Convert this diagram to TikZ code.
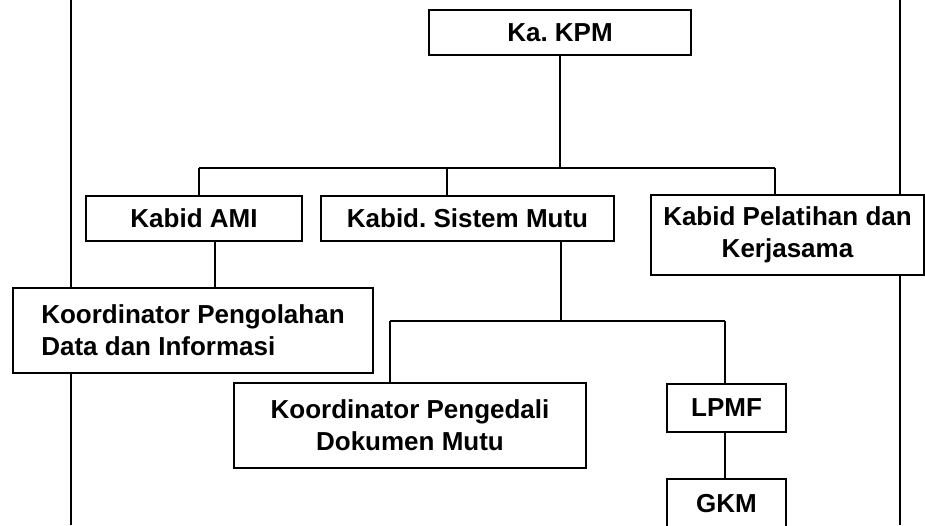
\documentclass[tikz,border=0pt]{standalone}
\usepackage{fontspec}
\setmainfont{Liberation Sans}
\frenchspacing
\begin{document}
\begin{tikzpicture}[x=1pt,y=-1pt,
  box/.style={draw, line width=2pt, fill=white, inner sep=0pt,
    font=\bfseries\fontsize{26}{32}\selectfont, align=center},
  link/.style={line width=1.7pt},
  frameline/.style={line width=2pt}]
\useasboundingbox (0,0) rectangle (925,525);
\draw[frameline] (71,0) -- (71,525);
\draw[frameline] (900,0) -- (900,525);
\node[box, minimum width=262, minimum height=45] (kpm) at (560,32.5) {Ka. KPM};
\node[box, minimum width=216, minimum height=45] (ami) at (194,218.5) {Kabid AMI};
\node[box, minimum width=293, minimum height=45] (sm) at (467.5,218.5) {Kabid. Sistem Mutu};
\node[box, minimum width=273, minimum height=80] (pel) at (787.5,235) {Kabid Pelatihan dan\\Kerjasama};
\node[box, align=left, minimum width=360, minimum height=85] (kpd) at (193,330.5) {Koordinator Pengolahan\\Data dan Informasi};
\node[box, minimum width=352, minimum height=85] (kdm) at (410,425.5) {Koordinator Pengedali\\Dokumen Mutu};
\node[box, minimum width=119, minimum height=48] (lpmf) at (726.5,408) {LPMF};
\node[box, minimum width=119, minimum height=50] (gkm) at (726.5,504) {GKM};
\coordinate (ba) at (199,168);
\coordinate (bs) at (447,168);
\coordinate (bk) at (560,168);
\coordinate (bp) at (775,168);
\draw[link] (kpm.south) -- (bk);
\draw[link] (ba) -- (bp);
\draw[link] (ba) -- (ba |- ami.north);
\draw[link] (bs) -- (bs |- sm.north);
\draw[link] (bp) -- (bp |- pel.north);
\coordinate (ca) at (215,0);
\draw[link] (ami.south -| ca) -- (kpd.north -| ca);
\coordinate (cs) at (561,321);
\coordinate (cl) at (390,321);
\coordinate (cr) at (725,321);
\draw[link] (sm.south -| cs) -- (cs);
\draw[link] (cl) -- (cr);
\draw[link] (cl) -- (cl |- kdm.north);
\draw[link] (cr) -- (cr |- lpmf.north);
\draw[link] (lpmf.south -| cr) -- (gkm.north -| cr);
\end{tikzpicture}
\end{document}
